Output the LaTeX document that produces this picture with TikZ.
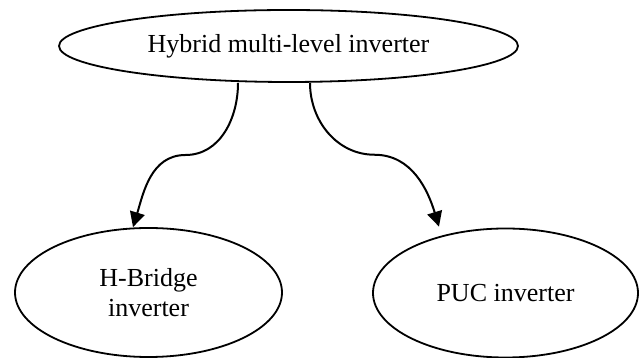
\documentclass[tikz,border=0pt]{standalone}
\usepackage{fontspec}
\setmainfont{Liberation Serif}
\usepackage{tikz}
\usetikzlibrary{arrows.meta, shapes.geometric, calc}

\begin{document}
\begin{tikzpicture}[x=0.5pt, y=0.5pt,
    font=\fontsize{13}{15}\selectfont,
    unit/.style={draw=black, line width=0.9pt, ellipse, inner sep=0pt,
                 align=center},
    link/.style={line width=1pt,
                 -{Triangle[length=7.5pt, width=7.5pt]}}]
  \useasboundingbox (0,0) rectangle (643,358);
  % Top class and the two kinds below it
  \node[unit, minimum width=229.5pt, minimum height=36pt]
        (hybrid) at (288.5, 312) {Hybrid multi-level inverter};
  \node[unit, minimum width=133.5pt, minimum height=64.5pt]
        (hbridge) at (148.5, 65.5) {H-Bridge\\inverter};
  \node[unit, minimum width=132.5pt, minimum height=64.5pt]
        (puc) at (505.5, 65) {PUC inverter};
  % Curved links
  \coordinate (hbA) at ($(hybrid.south)+(-50.5,0)$);
  \coordinate (hbB) at ($(hbridge.north)+(-15.5,0)$);
  \coordinate (pucA) at ($(hybrid.south)+(21.5,0)$);
  \coordinate (pucB) at ($(puc.north)+(-66.5,1)$);
  \draw[link] (hbA) to[out=-90, in=0] ($(hbA)!0.5!(hbB)$)
              to[out=180, in=73] (hbB);
  \draw[link] (pucA) to[out=-90, in=180] ($(pucA)!0.5!(pucB)$)
              to[out=0, in=107] (pucB);
\end{tikzpicture}
\end{document}
